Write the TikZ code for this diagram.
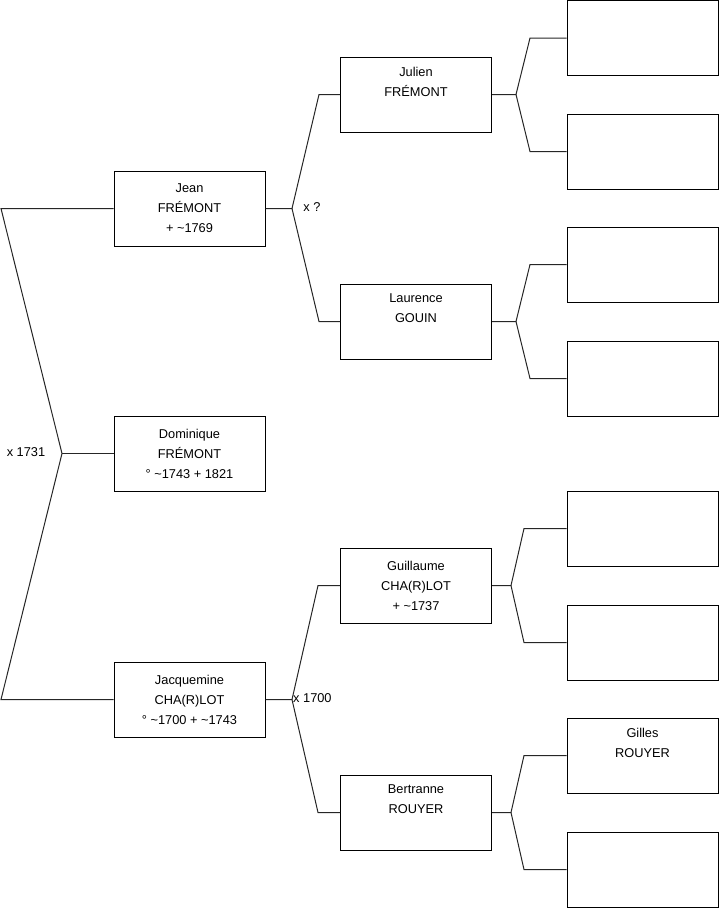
\documentclass[tikz,border=0pt]{standalone}
\usepackage{fontspec}
\setmainfont{Liberation Sans}
\begin{document}
\begin{tikzpicture}[x=1pt,y=-1pt,
  person/.style={draw=black, line width=1pt, minimum width=151pt, minimum height=75pt, inner sep=0pt, align=center, font=\fontsize{12.8}{20}\selectfont},
  link/.style={draw=black!85, line width=1pt},
  lbl/.style={font=\fontsize{12.8}{15}\selectfont, inner sep=0pt}]
\useasboundingbox (0,0) rectangle (719,908);
% column 1
\node[person] (jean) at (189.5,208.5) {Jean\\FRÉMONT\\+ \textasciitilde1769};
\node[person] (dom) at (189.5,453.5) {Dominique\\FRÉMONT\\° \textasciitilde1743 + 1821};
\node[person] (jacq) at (189.5,699.5) {Jacquemine\\CHA(R)LOT\\° \textasciitilde1700 + \textasciitilde1743};
% column 2
\node[person] (julien) at (416,94.5) {Julien\\FRÉMONT\\\strut};
\node[person] (laur) at (416,321.5) {Laurence\\GOUIN\\\strut};
\node[person] (guil) at (416,585.5) {Guillaume\\CHA(R)LOT\\+ \textasciitilde1737};
\node[person] (bert) at (416,812.5) {Bertranne\\ROUYER\\\strut};
% column 3
\node[person] (p1) at (642.5,38) {};
\node[person] (p2) at (642.5,151.5) {};
\node[person] (p3) at (642.5,264.5) {};
\node[person] (p4) at (642.5,378.5) {};
\node[person] (p5) at (642.5,528.5) {};
\node[person] (p6) at (642.5,642.5) {};
\node[person] (p7) at (642.5,755.5) {Gilles\\ROUYER\\\strut};
\node[person] (p8) at (642.5,869.5) {};
% forks
\coordinate (m0) at (62,453.5);
\coordinate (m0u) at (1,208.5);
\coordinate (m0d) at (1,699.5);
\draw[link] (jean.west) -- (m0u) -- (m0) -- (m0d) -- (jacq.west);
\draw[link] (m0) -- (dom.west);
\node[lbl] (l0) at (26,452) {x 1731};

\coordinate (m1) at (292,208.5);
\coordinate (m1u) at (319,94.5);
\coordinate (m1d) at (319,321.5);
\draw[link] (jean.east) -- (m1) -- (m1u) -- (julien.west);
\draw[link] (m1) -- (m1d) -- (laur.west);
\node[lbl] (l1) at (312,207) {x ?};

\coordinate (m2) at (292,699.5);
\coordinate (m2u) at (318,585.5);
\coordinate (m2d) at (318,812.5);
\draw[link] (jacq.east) -- (m2) -- (m2u) -- (guil.west);
\draw[link] (m2) -- (m2d) -- (bert.west);
\node[lbl, anchor=west] (l2) at (293,698) {x 1700};

\coordinate (m3) at (516,94.5);
\coordinate (m3u) at (530,38);
\coordinate (m3d) at (530,151.5);
\draw[link] (julien.east) -- (m3) -- (m3u) -- (p1.west);
\draw[link] (m3) -- (m3d) -- (p2.west);

\coordinate (m4) at (516,321.5);
\coordinate (m4u) at (530,264.5);
\coordinate (m4d) at (530,378.5);
\draw[link] (laur.east) -- (m4) -- (m4u) -- (p3.west);
\draw[link] (m4) -- (m4d) -- (p4.west);

\coordinate (m5) at (511,585.5);
\coordinate (m5u) at (524,528.5);
\coordinate (m5d) at (524,642.5);
\draw[link] (guil.east) -- (m5) -- (m5u) -- (p5.west);
\draw[link] (m5) -- (m5d) -- (p6.west);

\coordinate (m6) at (511,812.5);
\coordinate (m6u) at (524,755.5);
\coordinate (m6d) at (524,869.5);
\draw[link] (bert.east) -- (m6) -- (m6u) -- (p7.west);
\draw[link] (m6) -- (m6d) -- (p8.west);
\end{tikzpicture}
\end{document}
